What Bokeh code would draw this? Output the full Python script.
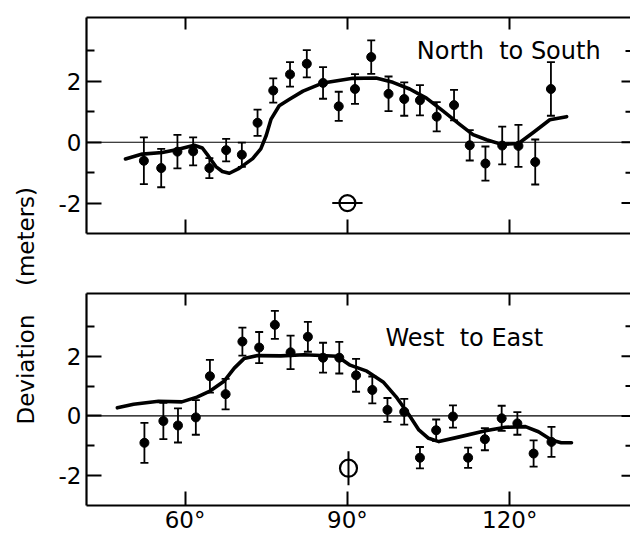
import math
from bokeh.plotting import figure
from bokeh.layouts import row, column
from bokeh.models import (Range1d, FixedTicker, LinearAxis, Span, Label,
                          ColumnDataSource, Whisker, TeeHead)
from bokeh.embed import file_html
from bokeh.resources import INLINE

FONT = "DejaVu Sans"

# ---------------- data ----------------
x_ticks = [60, 90, 120]
x_tick_labels = ["60°", "90°", "120°"]
y_ticks = [-2, 0, 2]
y_tick_labels = ["-2", "0", "2"]
y_minor_ticks = [-1, 1, 3]

ns_x = [52.4, 55.6, 58.6, 61.5, 64.5, 67.6, 70.5, 73.4, 76.3, 79.4, 82.5, 85.5, 88.4,
        91.4, 94.4, 97.6, 100.5, 103.4, 106.5, 109.7, 112.6, 115.5, 118.6, 121.6, 124.7, 127.6]
ns_y = [-0.61, -0.85, -0.31, -0.30, -0.85, -0.26, -0.41, 0.64, 1.70, 2.23, 2.58, 1.95, 1.18,
        1.75, 2.80, 1.59, 1.42, 1.38, 0.84, 1.22, -0.10, -0.70, -0.11, -0.12, -0.65, 1.75]
ns_err = [0.77, 0.63, 0.55, 0.46, 0.33, 0.37, 0.40, 0.43, 0.40, 0.40, 0.45, 0.52, 0.48,
          0.49, 0.55, 0.57, 0.55, 0.50, 0.48, 0.50, 0.50, 0.56, 0.62, 0.69, 0.74, 0.88]

ns_curve_x = [49.0, 52.1, 55.8, 58.6, 61.7, 63.2, 64.3, 65.7, 66.9, 68.2, 70.0, 72.5, 74.0,
              75.0, 75.9, 77.4, 79.3, 81.8, 85.5, 91.0, 95.3, 98.4, 101.5, 104.6, 107.7,
              110.8, 113.2, 115.7, 118.5, 121.6, 124.4, 127.4, 130.5]
ns_curve_y = [-0.55, -0.39, -0.34, -0.24, -0.10, -0.19, -0.45, -0.80, -0.96, -1.02, -0.86,
              -0.54, -0.22, 0.22, 0.76, 1.20, 1.41, 1.68, 1.95, 2.10, 2.11, 1.97, 1.75, 1.45,
              1.02, 0.58, 0.25, 0.08, -0.07, -0.04, 0.33, 0.74, 0.84]

we_x = [52.5, 56.0, 58.7, 62.0, 64.6, 67.5, 70.6, 73.7, 76.6, 79.5, 82.7, 85.5, 88.5,
        91.6, 94.6, 97.4, 100.5, 103.4, 106.4, 109.5, 112.3, 115.4, 118.5, 121.4, 124.4, 127.7]
we_y = [-0.90, -0.17, -0.32, -0.05, 1.33, 0.73, 2.49, 2.29, 3.05, 2.13, 2.65, 1.95, 1.95,
        1.36, 0.87, 0.20, 0.14, -1.40, -0.48, -0.02, -1.40, -0.78, -0.08, -0.25, -1.26, -0.87]
we_err = [0.67, 0.61, 0.57, 0.58, 0.55, 0.51, 0.47, 0.52, 0.47, 0.56, 0.50, 0.50, 0.53,
          0.55, 0.45, 0.40, 0.43, 0.36, 0.36, 0.37, 0.34, 0.37, 0.42, 0.38, 0.44, 0.50]

we_curve_x = [47.5, 50.5, 55.1, 59.4, 62.2, 64.7, 67.2, 69.1, 70.9, 73.4, 77.7, 82.0, 88.1,
              90.5, 93.6, 96.6, 99.0, 101.4, 103.2, 105.0, 106.9, 110.5, 115.5, 119.2, 122.9,
              125.3, 127.7, 129.5, 131.4]
we_curve_y = [0.27, 0.39, 0.49, 0.47, 0.63, 0.84, 1.16, 1.60, 1.92, 2.02, 2.01, 2.05, 2.00,
              1.70, 1.50, 1.14, 0.64, 0.03, -0.47, -0.75, -0.86, -0.71, -0.50, -0.38, -0.36,
              -0.53, -0.81, -0.90, -0.90]

# resolution symbols (position and error extents)
ns_sym_x, ns_sym_y, ns_sym_xerr = [90.0], [-2.0], [2.8]
we_sym_x, we_sym_y, we_sym_yerr = [90.2], [-1.75], [0.57]

titles = ["North\u00a0 to South", "West\u00a0 to East"]
y_label_words = ["Deviation", "(meters)"]

X_RANGE = (41.8, 142.3)
Y_RANGE = (-3.0, 4.1)

PANEL_W = 584
BORDER_L = 40
PX_PER_DEG = (PANEL_W - BORDER_L) / (X_RANGE[1] - X_RANGE[0])


def add_axis(p, loc, ticks, minor, labels, show, tick_in, minor_in):
    ax = LinearAxis(ticker=FixedTicker(ticks=ticks, minor_ticks=minor))
    ax.major_tick_in = tick_in
    ax.major_tick_out = 0
    ax.minor_tick_in = minor_in
    ax.minor_tick_out = 0
    ax.major_tick_line_width = 2
    ax.minor_tick_line_width = 2
    ax.major_tick_line_color = "black"
    ax.minor_tick_line_color = "black"
    ax.axis_line_width = 2.2
    ax.axis_line_color = "black"
    if show:
        ax.major_label_overrides = dict(zip(ticks, labels))
        ax.major_label_text_font = FONT
        ax.major_label_text_font_size = "23px"
        ax.major_label_text_color = "black"
        ax.major_label_standoff = 5 if loc == "left" else 1
    else:
        ax.major_label_overrides = {t: " " for t in ticks}
        ax.major_label_text_font_size = "1px"
        ax.major_label_standoff = 0
    p.add_layout(ax, loc)


def panel(height, top_border, bottom_border, show_x_labels, xs, ys, errs, cx, cy,
          title, tx, ty):
    p = figure(width=PANEL_W, height=height, x_range=Range1d(*X_RANGE), y_range=Range1d(*Y_RANGE),
               output_backend="svg", toolbar_location=None,
               x_axis_location=None, y_axis_location=None,
               min_border_left=BORDER_L, min_border_right=0,
               min_border_top=top_border, min_border_bottom=bottom_border,
               outline_line_color=None, background_fill_color="white")
    p.xgrid.visible = False
    p.ygrid.visible = False

    add_axis(p, "left", y_ticks, y_minor_ticks, y_tick_labels, True, 15, 8)
    add_axis(p, "below", x_ticks, [], x_tick_labels, show_x_labels, 14, 0)
    add_axis(p, "above", x_ticks, [], x_tick_labels, False, 12, 0)

    # right-hand tick stubs (the frame's right edge lies at the page edge)
    xr = X_RANGE[1]
    p.segment([xr] * len(y_ticks), y_ticks, [xr - 9 / PX_PER_DEG] * len(y_ticks), y_ticks,
              line_color="black", line_width=2)
    p.segment([xr] * len(y_minor_ticks), y_minor_ticks,
              [xr - 5 / PX_PER_DEG] * len(y_minor_ticks), y_minor_ticks,
              line_color="black", line_width=2)

    p.add_layout(Span(location=0, dimension="width", line_color="black", line_width=1.2))

    src = ColumnDataSource(dict(x=xs, y=ys,
                                upper=[v + e for v, e in zip(ys, errs)],
                                lower=[v - e for v, e in zip(ys, errs)]))
    p.add_layout(Whisker(base="x", upper="upper", lower="lower", source=src,
                         dimension="height", line_color="black", line_width=1.8,
                         upper_head=TeeHead(size=8, line_width=1.8, line_color="black"),
                         lower_head=TeeHead(size=8, line_width=1.8, line_color="black")))
    p.scatter(xs, ys, size=9, color="black")
    p.line(cx, cy, line_color="black", line_width=3.6, line_join="round", line_cap="round")

    p.add_layout(Label(x=tx, y=ty, text=title, text_font=FONT, text_font_size="24px",
                       text_align="center", text_baseline="alphabetic", text_color="black"))
    return p


top = panel(262, 17, 29, False, ns_x, ns_y, ns_err, ns_curve_x, ns_curve_y,
            titles[0], 119.8, 3.0)
bot = panel(273, 31, 20, True, we_x, we_y, we_err, we_curve_x, we_curve_y,
            titles[1], 111.6, 2.62)

# resolution symbols
top.segment([x - e for x, e in zip(ns_sym_x, ns_sym_xerr)], ns_sym_y,
            [x + e for x, e in zip(ns_sym_x, ns_sym_xerr)], ns_sym_y,
            line_color="black", line_width=2)
top.scatter(ns_sym_x, ns_sym_y, size=16, marker="circle", fill_color=None,
            line_color="black", line_width=2.2)
bot.segment(we_sym_x, [y - e for y, e in zip(we_sym_y, we_sym_yerr)],
            we_sym_x, [y + e for y, e in zip(we_sym_y, we_sym_yerr)],
            line_color="black", line_width=2)
bot.scatter(we_sym_x, we_sym_y, size=17, marker="circle", fill_color=None,
            line_color="black", line_width=2.2)

# y-axis label column
lab = figure(width=46, height=535, x_range=Range1d(0, 46), y_range=Range1d(0, 535),
             output_backend="svg", toolbar_location=None,
             x_axis_location=None, y_axis_location=None, min_border=0,
             outline_line_color=None)
lab.xgrid.visible = False
lab.ygrid.visible = False
lab.add_layout(Label(x=25, y=166, text=y_label_words[0], angle=math.pi / 2,
                     text_font=FONT, text_font_size="23px", text_align="center",
                     text_baseline="middle", text_color="black"))
lab.add_layout(Label(x=25, y=299, text=y_label_words[1], angle=math.pi / 2,
                     text_font=FONT, text_font_size="23px", text_align="center",
                     text_baseline="middle", text_color="black"))

layout = row(lab, column(top, bot))
open("out.html", "w").write(file_html(layout, INLINE))
